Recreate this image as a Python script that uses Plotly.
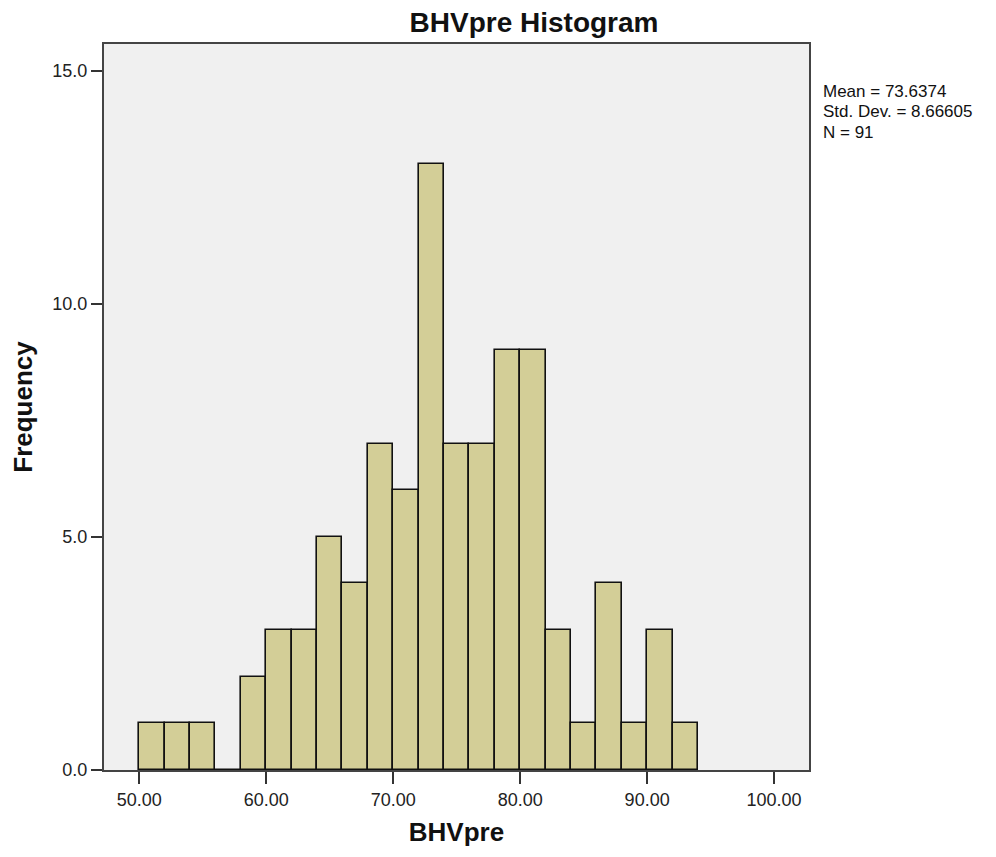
import plotly.graph_objects as go

bin_starts = [50, 52, 54, 56, 58, 60, 62, 64, 66, 68, 70, 72, 74, 76, 78, 80, 82, 84, 86, 88, 90, 92]
counts = [1, 1, 1, 0, 2, 3, 3, 5, 4, 7, 6, 13, 7, 7, 9, 9, 3, 1, 4, 1, 3, 1]
bin_width = 2
stats_lines = ["Mean = 73.6374", "Std. Dev. = 8.66605", "N = 91"]
x_ticks = [50, 60, 70, 80, 90, 100]
y_ticks = [0, 5, 10, 15]

# page body has an 8px margin; figure is laid out in its own local pixels
OFF = 8
W, H = 996 - OFF, 857 - OFF
L, R, T, B = 102 - OFF, 809 - OFF, 44 - OFF, 770 - OFF

centers = [s + bin_width / 2 for s in bin_starts]

fig = go.Figure(go.Bar(
    x=centers, y=counts, width=bin_width,
    marker=dict(color="#D3CE97", line=dict(color="#111111", width=1.6)),
    showlegend=False,
))

font = "Liberation Sans, Arial, sans-serif"

fig.update_layout(
    width=W, height=H,
    margin=dict(l=L, r=W - R, t=T, b=H - B, pad=0),
    paper_bgcolor="white", plot_bgcolor="#F0F0F0",
    font=dict(family=font, color="#222222"),
    title=dict(text="<b>BHVpre Histogram</b>", font=dict(size=28, color="#111111", family=font),
               x=(534 - OFF) / W, xanchor="center", xref="container",
               y=1 - (22 - OFF) / H, yanchor="middle", yref="container"),
    xaxis=dict(range=[47.22, 102.75], tickvals=x_ticks, ticktext=[f"{v:.2f}" for v in x_ticks],
               ticks="outside", ticklen=12, tickwidth=2, tickcolor="#333333",
               showline=True, linecolor="#444444", linewidth=2, mirror=True,
               showgrid=False, zeroline=False,
               tickfont=dict(size=18, color="#222222"),
               title=dict(text="<b>BHVpre</b>", font=dict(size=26, color="#111111"), standoff=14)),
    yaxis=dict(range=[0, 15.57], tickvals=y_ticks, ticktext=[f"{v:.1f}" for v in y_ticks],
               ticks="outside", ticklen=11, tickwidth=2, tickcolor="#333333",
               showline=True, linecolor="#444444", linewidth=2, mirror=True,
               showgrid=False, zeroline=False,
               tickfont=dict(size=18, color="#222222"),
               title=dict(text="<b>Frequency</b>", font=dict(size=26, color="#111111"), standoff=14)),
    bargap=0,
)

stats_text = "<br>".join(f"<span style='font-size:17px'>{s}</span>" for s in stats_lines)
fig.add_annotation(text=stats_text, xref="paper", yref="paper",
                   x=(821 - OFF - L) / (R - L), y=(B - (80 - OFF)) / (B - T),
                   xanchor="left", yanchor="top", align="left", showarrow=False,
                   font=dict(size=15.7, color="#111111", family=font))

fig.write_html("out.html")
